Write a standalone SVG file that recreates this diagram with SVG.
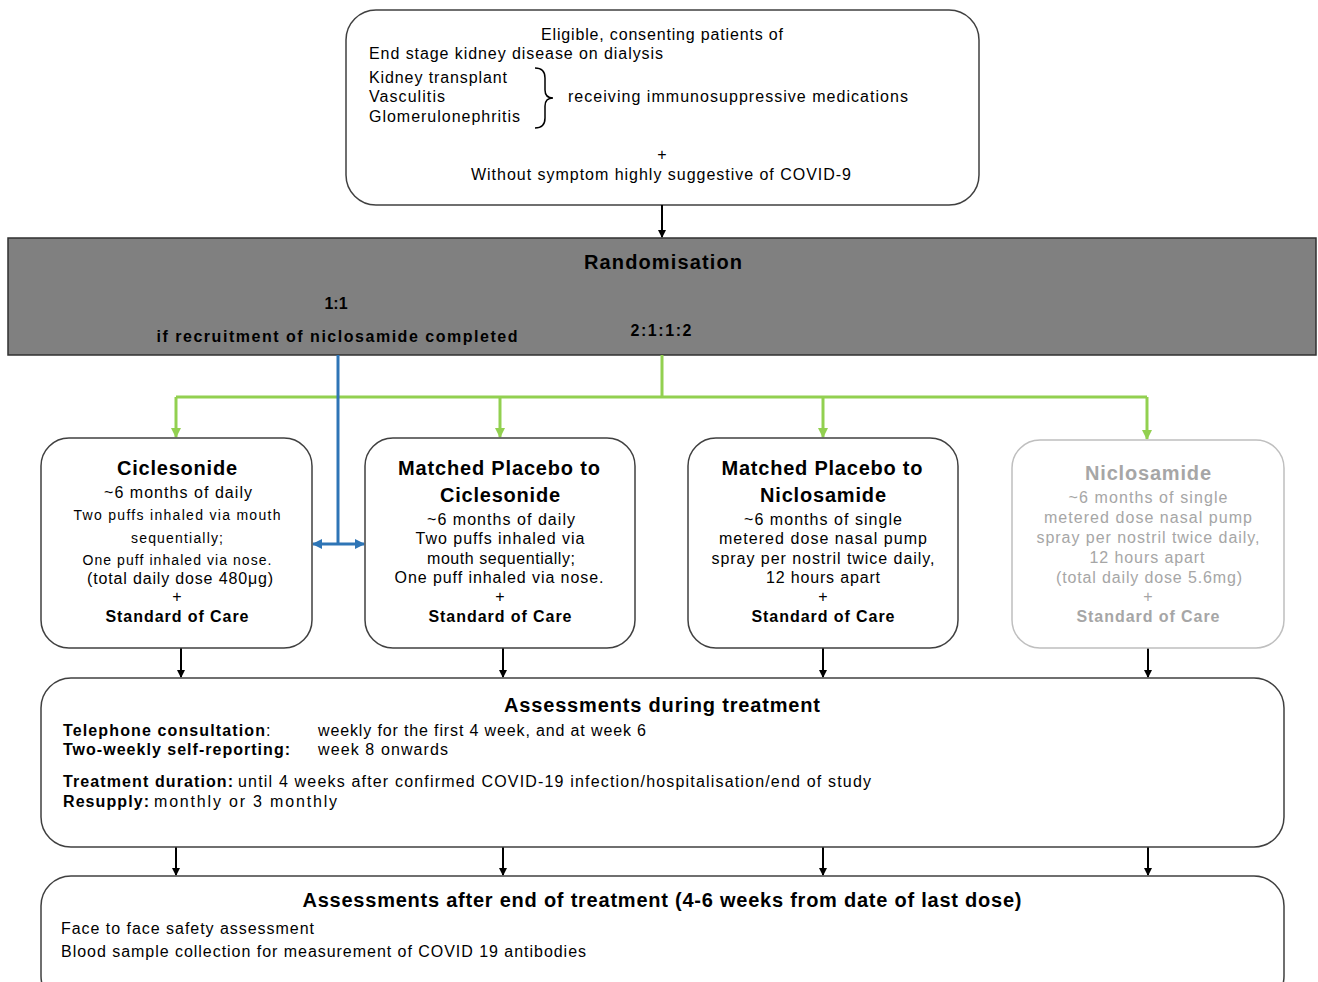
<svg xmlns="http://www.w3.org/2000/svg" width="1318" height="982" viewBox="0 0 1318 982">
<defs>
<marker id="ab" markerWidth="8" markerHeight="8" refX="7" refY="4" orient="auto" markerUnits="userSpaceOnUse"><path d="M0,0 L8,4 L0,8 z" fill="#000"/></marker>
<marker id="ag" markerWidth="10" markerHeight="10" refX="9" refY="5" orient="auto" markerUnits="userSpaceOnUse"><path d="M0,0 L10,5 L0,10 z" fill="#92D050"/></marker>
<marker id="abl" markerWidth="10" markerHeight="10" refX="9" refY="5" orient="auto-start-reverse" markerUnits="userSpaceOnUse"><path d="M0,0 L10,5 L0,10 z" fill="#2E75B6"/></marker>
</defs>
<style>
text{font-family:"Liberation Sans",Arial,sans-serif;fill:#000}
.n{font-size:16px}
.s{font-size:14px}
.b{font-weight:bold}
.t{font-size:20px;font-weight:bold}
.c{text-anchor:middle}
.box{fill:#fff;stroke:#404040;stroke-width:1.5}
.gbox{fill:#fff;stroke:#bfbfbf;stroke-width:1.5}
.g text{fill:#a6a6a6}
.blk{stroke:#000;stroke-width:2;fill:none;marker-end:url(#ab)}
.grn{stroke:#92D050;stroke-width:3;fill:none}
.gar{stroke:#92D050;stroke-width:3;fill:none;marker-end:url(#ag)}
</style>

<g id="eligibility">
<rect class="box" x="346" y="10" width="633" height="195" rx="30"/>
<text class="n c" x="662" y="40" textLength="242" lengthAdjust="spacing">Eligible, consenting patients of</text>
<text class="n" x="369" y="59" textLength="294" lengthAdjust="spacing">End stage kidney disease on dialysis</text>
<text class="n" x="369" y="83" textLength="138" lengthAdjust="spacing">Kidney transplant</text>
<text class="n" x="369" y="102" textLength="76" lengthAdjust="spacing">Vasculitis</text>
<text class="n" x="369" y="122" textLength="151" lengthAdjust="spacing">Glomerulonephritis</text>
<path d="M535,68 Q545,68 545,78 L545,90 Q545,98 553,98 Q545,98 545,106 L545,118 Q545,128 535,128" fill="none" stroke="#000" stroke-width="1.5"/>
<text class="n" x="568" y="102" textLength="340" lengthAdjust="spacing">receiving immunosuppressive medications</text>
<text class="n c" x="662" y="160">+</text>
<text class="n c" x="661" y="180" textLength="380" lengthAdjust="spacing">Without symptom highly suggestive of COVID-9</text>
</g>

<g id="randomisation">
<rect x="8" y="238" width="1308" height="117" fill="#808080" stroke="#303030" stroke-width="1.5"/>
<text class="c b" x="663" y="269" font-size="20" textLength="158" lengthAdjust="spacing">Randomisation</text>
<text class="c b" x="336" y="309" font-size="16">1:1</text>
<text class="c b" x="337" y="342" font-size="16" textLength="361" lengthAdjust="spacing">if recruitment of niclosamide completed</text>
<text class="c b" x="661" y="336" font-size="16" textLength="61" lengthAdjust="spacing">2:1:1:2</text>
</g>

<g id="connectors">
<line class="blk" x1="662" y1="205" x2="662" y2="237"/>
<path class="grn" d="M662,355 L662,397 M176,397 L1147,397"/>
<line class="gar" x1="176" y1="397" x2="176" y2="437"/>
<line class="gar" x1="500" y1="397" x2="500" y2="437"/>
<line class="gar" x1="823" y1="397" x2="823" y2="437"/>
<line class="gar" x1="1147" y1="397" x2="1147" y2="439"/>
<line x1="338" y1="355" x2="338" y2="544" stroke="#2E75B6" stroke-width="3"/>
<line x1="313" y1="544" x2="364" y2="544" stroke="#2E75B6" stroke-width="3" marker-start="url(#abl)" marker-end="url(#abl)"/>
<line class="blk" x1="181" y1="648" x2="181" y2="677"/>
<line class="blk" x1="503" y1="648" x2="503" y2="677"/>
<line class="blk" x1="823" y1="648" x2="823" y2="677"/>
<line class="blk" x1="1148" y1="648" x2="1148" y2="677"/>
<line class="blk" x1="176" y1="847" x2="176" y2="875"/>
<line class="blk" x1="503" y1="847" x2="503" y2="875"/>
<line class="blk" x1="823" y1="847" x2="823" y2="875"/>
<line class="blk" x1="1148" y1="847" x2="1148" y2="875"/>
</g>

<g id="ciclesonide">
<rect class="box" x="41" y="438" width="271" height="210" rx="28"/>
<text class="t c" x="177" y="475" textLength="120" lengthAdjust="spacing">Ciclesonide</text>
<text class="n c" x="178" y="498" textLength="148" lengthAdjust="spacing">~6 months of daily</text>
<text class="s c" x="177" y="520" textLength="207" lengthAdjust="spacing">Two puffs inhaled via mouth</text>
<text class="s c" x="177" y="543" textLength="92" lengthAdjust="spacing">sequentially;</text>
<text class="s c" x="177" y="565" textLength="189" lengthAdjust="spacing">One puff inhaled via nose.</text>
<text class="n c" x="180" y="584" textLength="186" lengthAdjust="spacing">(total daily dose 480μg)</text>
<text class="n c" x="177" y="602">+</text>
<text class="n b c" x="177" y="622" textLength="143" lengthAdjust="spacing">Standard of Care</text>
</g>

<g id="placebo-ciclesonide">
<rect class="box" x="365" y="438" width="270" height="210" rx="28"/>
<text class="t c" x="499" y="475" textLength="202" lengthAdjust="spacing">Matched Placebo to</text>
<text class="t c" x="500" y="502" textLength="120" lengthAdjust="spacing">Ciclesonide</text>
<text class="n c" x="501" y="525" textLength="148" lengthAdjust="spacing">~6 months of daily</text>
<text class="n c" x="500" y="544" textLength="169" lengthAdjust="spacing">Two puffs inhaled via</text>
<text class="n c" x="501" y="564" textLength="148" lengthAdjust="spacing">mouth sequentially;</text>
<text class="n c" x="499" y="583" textLength="209" lengthAdjust="spacing">One puff inhaled via nose.</text>
<text class="n c" x="500" y="602">+</text>
<text class="n b c" x="500" y="622" textLength="143" lengthAdjust="spacing">Standard of Care</text>
</g>

<g id="placebo-niclosamide">
<rect class="box" x="688" y="438" width="270" height="210" rx="28"/>
<text class="t c" x="822" y="475" textLength="201" lengthAdjust="spacing">Matched Placebo to</text>
<text class="t c" x="823" y="502" textLength="126" lengthAdjust="spacing">Niclosamide</text>
<text class="n c" x="823" y="525" textLength="158" lengthAdjust="spacing">~6 months of single</text>
<text class="n c" x="823" y="544" textLength="208" lengthAdjust="spacing">metered dose nasal pump</text>
<text class="n c" x="823" y="564" textLength="223" lengthAdjust="spacing">spray per nostril twice daily,</text>
<text class="n c" x="823" y="583" textLength="114" lengthAdjust="spacing">12 hours apart</text>
<text class="n c" x="823" y="602">+</text>
<text class="n b c" x="823" y="622" textLength="143" lengthAdjust="spacing">Standard of Care</text>
</g>

<g id="niclosamide" class="g">
<rect class="gbox" x="1012" y="440" width="272" height="208" rx="28"/>
<text class="t c" x="1148" y="480" textLength="126" lengthAdjust="spacing">Niclosamide</text>
<text class="n c" x="1148" y="503" textLength="159" lengthAdjust="spacing">~6 months of single</text>
<text class="n c" x="1148" y="523" textLength="208" lengthAdjust="spacing">metered dose nasal pump</text>
<text class="n c" x="1148" y="543" textLength="223" lengthAdjust="spacing">spray per nostril twice daily,</text>
<text class="n c" x="1147" y="563" textLength="115" lengthAdjust="spacing">12 hours apart</text>
<text class="n c" x="1149" y="583" textLength="186" lengthAdjust="spacing">(total daily dose 5.6mg)</text>
<text class="n c" x="1148" y="602">+</text>
<text class="n b c" x="1148" y="622" textLength="143" lengthAdjust="spacing">Standard of Care</text>
</g>

<g id="assessments-during">
<rect class="box" x="41" y="678" width="1243" height="169" rx="30"/>
<text class="t c" x="662" y="712" textLength="316" lengthAdjust="spacing">Assessments during treatment</text>
<text class="n" x="63" y="736"><tspan font-weight="bold" textLength="202" lengthAdjust="spacing">Telephone consultation</tspan>:</text>
<text class="n" x="318" y="736" textLength="328" lengthAdjust="spacing">weekly for the first 4 week, and at week 6</text>
<text class="n b" x="63" y="755" textLength="227" lengthAdjust="spacing">Two-weekly self-reporting:</text>
<text class="n" x="318" y="755" textLength="130" lengthAdjust="spacing">week 8 onwards</text>
<text class="n b" x="63" y="787" textLength="170" lengthAdjust="spacing">Treatment duration:</text>
<text class="n" x="238" y="787" textLength="633" lengthAdjust="spacing">until 4 weeks after confirmed COVID-19 infection/hospitalisation/end of study</text>
<text class="n b" x="63" y="807" textLength="86" lengthAdjust="spacing">Resupply:</text>
<text class="n" x="154" y="807" textLength="183" lengthAdjust="spacing">monthly or 3 monthly</text>
</g>

<g id="assessments-after">
<rect class="box" x="41" y="876" width="1243" height="130" rx="30"/>
<text class="t c" x="662" y="907" textLength="719" lengthAdjust="spacing">Assessments after end of treatment (4-6 weeks from date of last dose)</text>
<text class="n" x="61" y="934" textLength="253" lengthAdjust="spacing">Face to face safety assessment</text>
<text class="n" x="61" y="957" textLength="525" lengthAdjust="spacing">Blood sample collection for measurement of COVID 19 antibodies</text>
</g>
</svg>
